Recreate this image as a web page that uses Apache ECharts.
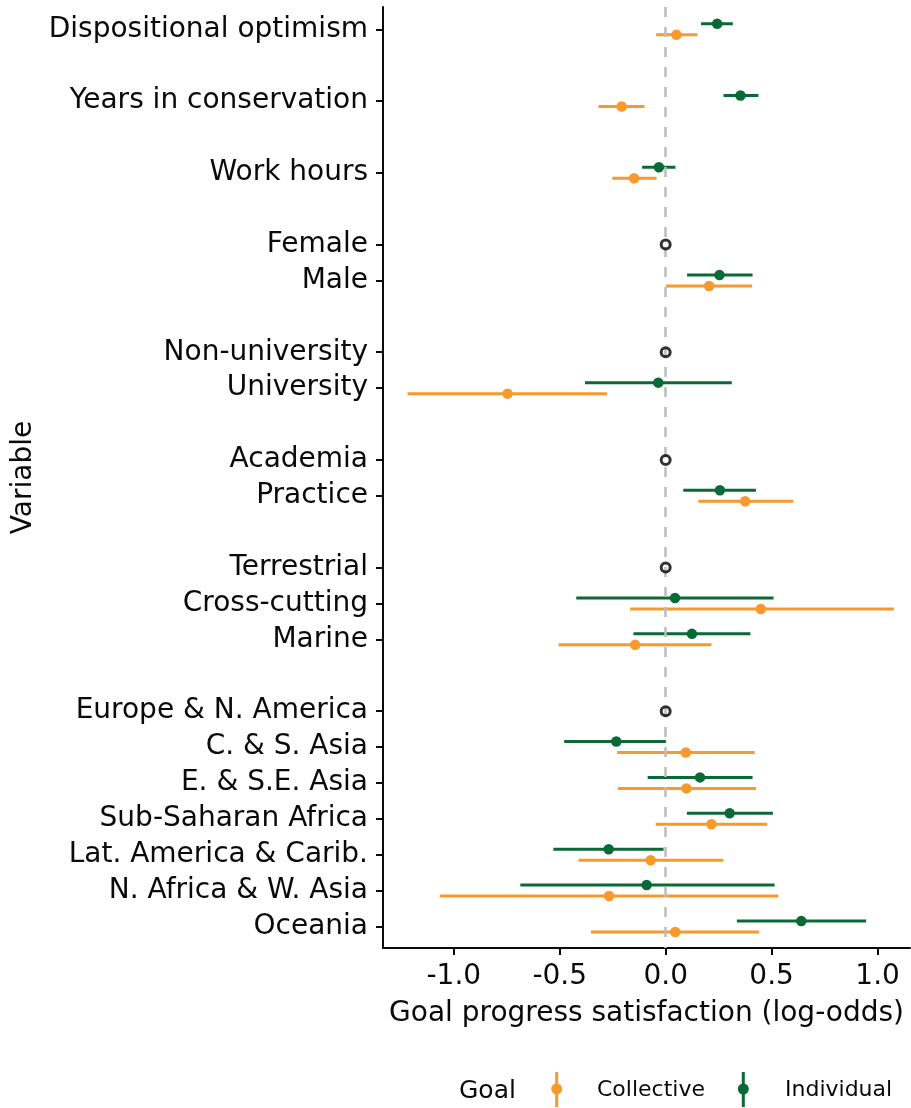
<!DOCTYPE html>
<html><head><meta charset="utf-8">
<script src="https://cdn.jsdelivr.net/npm/echarts@6/dist/echarts.min.js"></script>
<style>html,body{margin:0;padding:0;background:#fff}#c{width:911px;height:1108px}</style>
</head><body><div id="c"></div>
<script>
const variables = ['Dispositional optimism','Years in conservation','Work hours','Female','Male','Non-university','University','Academia','Practice','Terrestrial','Cross-cutting','Marine','Europe & N. America','C. & S. Asia','E. & S.E. Asia','Sub-Saharan Africa','Lat. America & Carib.','N. Africa & W. Asia','Oceania'];
const groups = [1,2,3,4,4,5,5,6,6,7,7,7,8,8,8,8,8,8,8];
const referenceLevels = ['Female','Non-university','Academia','Terrestrial','Europe & N. America'];
const collectiveEst = [0.051,-0.208,-0.149,null,0.205,null,-0.746,null,0.375,null,0.449,-0.144,null,0.095,0.098,0.216,-0.071,-0.267,0.045];
const collectiveLo  = [-0.045,-0.317,-0.252,null,0.002,null,-1.218,null,0.154,null,-0.168,-0.506,null,-0.229,-0.225,-0.047,-0.411,-1.066,-0.353];
const collectiveHi  = [0.150,-0.100,-0.043,null,0.408,null,-0.276,null,0.602,null,1.077,0.216,null,0.420,0.426,0.479,0.272,0.532,0.441];
const individualEst = [0.243,0.353,-0.032,null,0.254,null,-0.035,null,0.256,null,0.044,0.124,null,-0.233,0.162,0.302,-0.269,-0.090,0.640];
const individualLo  = [0.167,0.273,-0.111,null,0.101,null,-0.381,null,0.083,null,-0.422,-0.152,null,-0.479,-0.085,0.100,-0.530,-0.686,0.336];
const individualHi  = [0.317,0.438,0.046,null,0.410,null,0.312,null,0.426,null,0.509,0.400,null,0.001,0.410,0.506,-0.010,0.514,0.946];
const xTicks = [-1.0,-0.5,0.0,0.5,1.0];
const goalNames = ['Collective','Individual'];

const COL_ORANGE = '#F8992D';
const COL_GREEN = '#0A6A37';
const FONT = 'DejaVu Sans';
const TXT = '#0a0a0a';

// row positions: step 1 within a group, 2 between groups
const rowPos = [];
groups.forEach((g,i)=>{ rowPos.push(i===0?0:rowPos[i-1] + (g===groups[i-1]?1:2)); });
const labelByPos = {};
rowPos.forEach((p,i)=>{ labelByPos[p]=variables[i]; });

function barSeries(name, lo, hi, color, dy){
  const data = [];
  lo.forEach((v,i)=>{ if(v!==null) data.push([v, hi[i], rowPos[i]]); });
  return {
    name, type:'custom', z:2, silent:true,
    encode:{x:[0,1], y:2},
    data,
    renderItem(params, api){
      const p1 = api.coord([api.value(0), api.value(2)]);
      const p2 = api.coord([api.value(1), api.value(2)]);
      return {type:'line', shape:{x1:p1[0], y1:p1[1]+dy, x2:p2[0], y2:p2[1]+dy},
        style:{stroke:color, lineWidth:3}};
    }
  };
}
function pointSeries(name, est, color, dy){
  const data = [];
  est.forEach((v,i)=>{ if(v!==null) data.push([v, rowPos[i]]); });
  return {name, type:'scatter', z:4, silent:true, symbol:'circle', symbolSize:10.5,
    symbolOffset:[0,dy], itemStyle:{color, opacity:1}, data};
}
const refData = variables.map((v,i)=>referenceLevels.includes(v)?[0,rowPos[i]]:null).filter(d=>d);

const maxPos = rowPos[rowPos.length-1];
const chart = echarts.init(document.getElementById('c'), null, {renderer:'canvas'});
chart.setOption({
  backgroundColor:'#fff',
  animation:false,
  grid:{left:383, right:1, top:7, bottom:160, containLabel:false},
  xAxis:{
    type:'value', min:-1.334, max:1.153,
    name:'Goal progress satisfaction (log-odds)', nameLocation:'middle', nameGap:52,
    nameTextStyle:{fontFamily:FONT, fontSize:28, color:TXT},
    axisLine:{show:true, onZero:false, lineStyle:{color:TXT, width:2}},
    axisTick:{show:true, length:7, lineStyle:{color:TXT, width:2}, customValues:xTicks},
    axisLabel:{fontFamily:FONT, fontSize:28, color:TXT, margin:15, customValues:xTicks,
      formatter:v=>v.toFixed(1)},
    splitLine:{show:false}
  },
  yAxis:{
    type:'value', inverse:true, min:-0.62, max:maxPos+0.6,
    name:'Variable', nameLocation:'middle', nameRotate:90, nameGap:345,
    nameTextStyle:{fontFamily:FONT, fontSize:28, color:TXT},
    axisLine:{show:true, onZero:false, lineStyle:{color:TXT, width:2}},
    axisTick:{show:true, length:7, lineStyle:{color:TXT, width:2}, customValues:rowPos},
    axisLabel:{fontFamily:FONT, fontSize:28, color:TXT, margin:15, customValues:rowPos,
      padding:[4,0,0,0],
      formatter:v=>labelByPos[Math.round(v)]||''},
    splitLine:{show:false}
  },
  series:[
    barSeries('Collective bars', collectiveLo, collectiveHi, COL_ORANGE, 5.5),
    barSeries('Individual bars', individualLo, individualHi, COL_GREEN, -5.5),
    {name:'zero', type:'scatter', z:3, data:[], silent:true,
     markLine:{silent:true, symbol:['none','none'], label:{show:false},
       lineStyle:{color:'#BDBDBD', width:2.5, type:[10,10]},
       data:[{xAxis:0}], z:3}},
    pointSeries(goalNames[0], collectiveEst, COL_ORANGE, 5.5),
    pointSeries(goalNames[1], individualEst, COL_GREEN, -5.5),
    {name:'Reference', type:'scatter', z:5, silent:true, symbol:'circle', symbolSize:9,
     itemStyle:{color:'rgba(0,0,0,0)', borderColor:'#000', borderWidth:3}, data:refData}
  ],
  graphic:[
    {type:'text', x:459, y:1091, style:{text:'Goal', font:'25px "DejaVu Sans"', fill:TXT, verticalAlign:'middle'}},
    {type:'line', shape:{x1:556.7,y1:1072,x2:556.7,y2:1107}, style:{stroke:COL_ORANGE, lineWidth:3}},
    {type:'circle', shape:{cx:556.7, cy:1089, r:5.5}, style:{fill:COL_ORANGE}},
    {type:'text', x:597, y:1090, style:{text:goalNames[0], font:'22px "DejaVu Sans"', fill:TXT, verticalAlign:'middle'}},
    {type:'line', shape:{x1:743.3,y1:1072,x2:743.3,y2:1107}, style:{stroke:COL_GREEN, lineWidth:3}},
    {type:'circle', shape:{cx:743.3, cy:1089, r:5.5}, style:{fill:COL_GREEN}},
    {type:'text', x:785, y:1090, style:{text:goalNames[1], font:'22px "DejaVu Sans"', fill:TXT, verticalAlign:'middle'}}
  ]
});
</script>
</body></html>
